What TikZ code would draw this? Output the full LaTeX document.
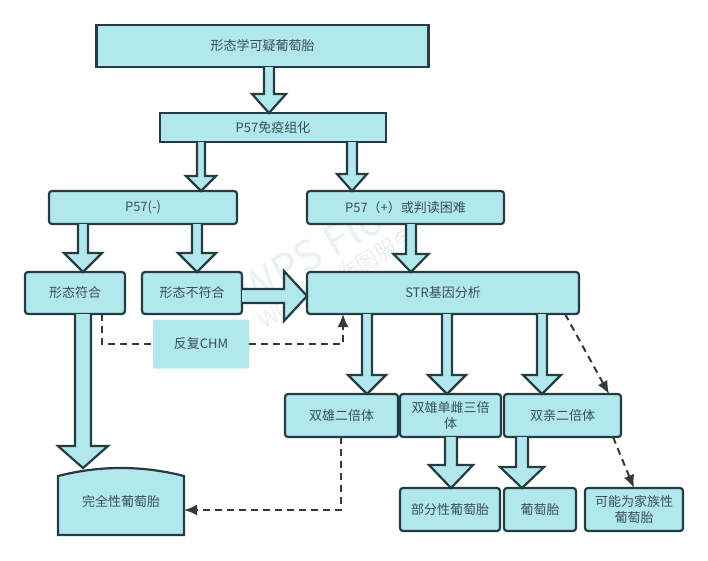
\documentclass[tikz,border=0pt]{standalone}
\usepackage{fontspec}
\setmainfont{Noto Sans CJK SC}
\usetikzlibrary{calc}
\usetikzlibrary{arrows.meta}
\definecolor{boxfill}{HTML}{B0E8EE}
\definecolor{boxline}{HTML}{263C40}
\definecolor{boxtext}{HTML}{3A5054}
\definecolor{dashgray}{HTML}{333A3B}
\definecolor{markgray}{HTML}{EDF0F0}
\tikzset{
    flowbox/.style={draw=boxline, fill=boxfill, line width=2.2pt, text=boxtext, rounded corners=3pt, outer sep=0pt, inner sep=1pt, align=center, font=\fontsize{13}{16.5}\selectfont},
    squarebox/.style={flowbox, rounded corners=0pt},
    plainbox/.style={flowbox, draw=none, rounded corners=2pt},
    textbox/.style={flowbox, draw=none, fill=none},
    fatline/.style={draw=boxline, fill=boxfill, line width=2.2pt, line join=miter},
    dashline/.style={draw=dashgray, line width=2pt, dash pattern=on 7pt off 5pt},
    dashtip/.style={dashline, -{Latex[length=13pt,width=11pt]}}
}
% x, from node, to node, half shaft, half head, head length
\newcommand{\fatdown}[6]{%
    \coordinate (tl) at (#1,0 |- #2.south);
    \coordinate (tp) at (#1,0 |- #3.north);
    \draw[fatline] ($(tl)+(-#4,0)$) -- ($(tp)+(-#4,#6)$) -- ($(tp)+(-#5,#6)$) -- (tp)
        -- ($(tp)+(#5,#6)$) -- ($(tp)+(#4,#6)$) -- ($(tl)+(#4,0)$);
}
\begin{document}
\begin{tikzpicture}[x=1pt,y=1pt]
    \useasboundingbox (0,0) rectangle (708,-560);

    % Watermark
    \node[rotate=30, text=markgray, font=\fontsize{42}{42}\selectfont] (markA) at (325,-245) {WPS Flow};
    \node[rotate=30, text=markgray, font=\fontsize{22}{22}\selectfont] (markB) at (337,-278) {WPS提供作图服务};

    % Draw the boxes
    \node[squarebox, minimum width=332, minimum height=42] (suspect) at (262.5,-46) {形态学可疑葡萄胎};
    \node[squarebox, minimum width=226, minimum height=29] (stain) at (273,-127.5) {P57免疫组化};
    \node[flowbox, minimum width=188, minimum height=33] (negative) at (143,-207.5) {P57(-)};
    \node[flowbox, minimum width=197, minimum height=33] (positive) at (405.5,-207.5) {P57（+）或判读困难};
    \node[flowbox, minimum width=100, minimum height=42] (match) at (75,-293) {形态符合};
    \node[flowbox, minimum width=100, minimum height=42] (nomatch) at (192,-293) {形态不符合};
    \node[flowbox, minimum width=272, minimum height=42] (str) at (443,-293) {STR基因分析};
    \node[plainbox, minimum width=96, minimum height=49] (chm) at (201,-344) {反复CHM};
    \node[flowbox, minimum width=113, minimum height=43] (dia) at (341.5,-415.5) {双雄二倍体};
    \node[flowbox, minimum width=101, minimum height=43] (tri) at (450.5,-415.5) {双雄单雌三倍\\体};
    \node[flowbox, minimum width=117, minimum height=43] (bi) at (562.5,-415.5) {双亲二倍体};
    \node[flowbox, minimum width=100, minimum height=43] (partial) at (450,-509.5) {部分性葡萄胎};
    \node[flowbox, minimum width=72, minimum height=43] (mole) at (540,-509.5) {葡萄胎};
    \node[flowbox, minimum width=98, minimum height=43] (family) at (634,-509.5) {可能为家族性\\葡萄胎};

    % Box with the curved top
    \draw[fatline] (58,-476) .. controls (100,-465.3) and (142,-465.3) .. (184,-476) -- (184,-535) -- (58,-535) -- cycle;
    \node[textbox, minimum width=126, minimum height=67] (complete) at (121,-501.5) {完全性葡萄胎};

    % Draw the wide arrows
    \fatdown{269}{suspect}{stain}{5}{17}{19}
    \fatdown{201}{stain}{negative}{4}{15}{15}
    \fatdown{352}{stain}{positive}{5}{15}{17}
    \fatdown{83}{negative}{match}{5}{19}{19}
    \fatdown{197}{negative}{nomatch}{5}{19}{19}
    \fatdown{411}{positive}{str}{5}{17.5}{18}
    \fatdown{83}{match}{complete}{8}{25}{22}
    \fatdown{367}{str}{dia}{5}{19}{19}
    \fatdown{447}{str}{tri}{5}{19}{19}
    \fatdown{542}{str}{bi}{5}{19}{19}
    \fatdown{451}{tri}{partial}{6}{22}{23}
    \fatdown{522}{bi}{mole}{6}{22}{21}

    % Wide arrow to the right
    \coordinate (sd) at (nomatch.east |- 0,-296);
    \coordinate (st) at (str.west |- 0,-296);
    \draw[fatline] ($(sd)+(0,7)$) -- ($(st)+(-23,7)$) -- ($(st)+(-23,25)$) -- (st)
        -- ($(st)+(-23,-25)$) -- ($(st)+(-23,-7)$) -- ($(sd)+(0,-7)$);

    % Draw the dashed arrows
    \coordinate (mt) at (102,0 |- match.south);
    \coordinate (sb) at (343,0 |- str.south);
    \draw[dashline] (mt) |- (chm.west);
    \draw[dashtip] (chm.east) -| (sb);
    \coordinate (so) at (565,0 |- str.south);
    \coordinate (bt) at (609,0 |- bi.north);
    \draw[dashtip] (so) -- (bt);
    \coordinate (bo) at (613,0 |- bi.south);
    \coordinate (ft) at (634,0 |- family.north);
    \draw[dashtip] (bo) -- (ft);
    \coordinate (dt) at (341,0 |- dia.south);
    \draw[dashtip] (dt) |- (complete.east |- 0,-510);
\end{tikzpicture}
\end{document}
